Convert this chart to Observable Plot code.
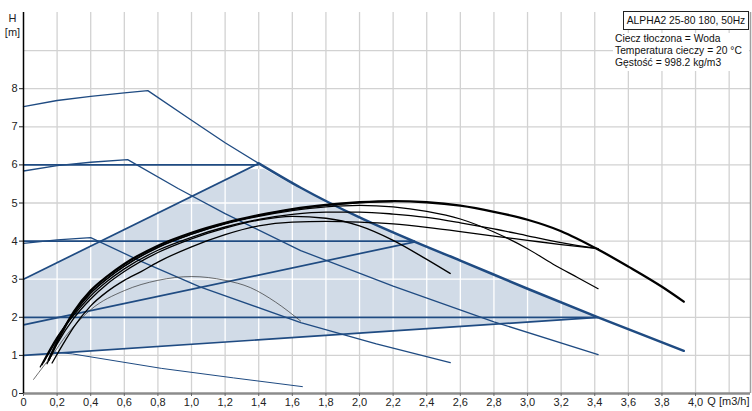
<!DOCTYPE html>
<html><head><meta charset="utf-8">
<script src="https://cdn.jsdelivr.net/npm/d3@7"></script>
<script src="https://cdn.jsdelivr.net/npm/@observablehq/plot@0.6"></script>
<style>
html,body{margin:0;padding:0;background:#fff;}
#wrap{position:relative;width:752px;height:411px;font-family:"Liberation Sans",Arial,sans-serif;overflow:hidden;}
#wrap svg{position:absolute;left:0;top:0;}
#title{position:absolute;left:623px;top:11px;width:124px;height:17px;border:1px solid #222;background:#fff;font-size:10.3px;line-height:17px;text-align:center;color:#111;white-space:nowrap;}
#info{position:absolute;left:613px;top:33px;width:134px;height:38px;background:#fff;font-size:10.3px;line-height:11.8px;color:#111;padding-left:2px;white-space:nowrap;}
</style></head>
<body><div id="wrap"></div>
<script>
// ---- axes / ticks ----
const xTickValues = [0,0.2,0.4,0.6,0.8,1.0,1.2,1.4,1.6,1.8,2.0,2.2,2.4,2.6,2.8,3.0,3.2,3.4,3.6,3.8,4.0];
const xTickLabels = ["0","0,2","0,4","0,6","0,8","1,0","1,2","1,4","1,6","1,8","2,0","2,2","2,4","2,6","2,8","3,0","3,2","3,4","3,6","3,8","4,0"];
const yTickValues = [0,1,2,3,4,5,6,7,8];
const yTickLabels = ["0","1","2","3","4","5","6","7","8"];
const gridQ = [0.2,0.4,0.6,0.8,1.0,1.2,1.4,1.6,1.8,2.0,2.2,2.4,2.6,2.8,3.0,3.2,3.4,3.6,3.8,4.0,4.2];
const gridH = [1,2,3,4,5,6,7,8,9];
const xMax = 4.327, yMax = 10;
const xLabel = "Q [m3/h]";
const yLabel = "H\n[m]";
const titleText = "ALPHA2 25-80 180, 50Hz";
const infoLines = ["Ciecz tłoczona = Woda","Temperatura cieczy = 20 °C","Gęstość = 998.2 kg/m3"];

// ---- shaded AUTOADAPT area ----
const shadeQ = [0,0,1.33,1.43,1.65,2.0,2.33,2.6,3.0,3.42];
const shadeH = [1.0,3.0,5.88,5.9,5.36,4.6,3.96,3.47,2.73,2.0];

// ---- blue curves ----
const maxQ = [1.4,1.65,2.0,2.33,2.6,3.0,3.42,3.93];
const maxH = [6.04,5.4,4.62,3.98,3.49,2.75,2.0,1.12];
const s3Q = [0,0.2,0.4,0.6,0.74,1.0,1.2,1.4];
const s3H = [7.53,7.69,7.8,7.89,7.95,7.17,6.58,6.04];
const s2Q = [0,0.2,0.4,0.62,0.92,1.2,1.65,2.2,2.8,3.42];
const s2H = [5.84,5.98,6.07,6.14,5.38,4.72,3.75,2.82,1.88,1.02];
const s1Q = [0,0.2,0.4,0.7,1.05,1.65,2.1,2.54];
const s1H = [3.94,4.03,4.09,3.47,2.8,1.86,1.3,0.81];
const minQ = [0.17,0.29,0.82,1.25,1.66];
const minH = [1.09,1.04,0.66,0.41,0.18];
const constH = [2,4,6];
const constEndQ = [3.42,2.33,1.4];
const propStartH = [1.0,1.8,3.0];
const propEndQ = [3.42,2.33,1.4];
const propEndH = [2.0,3.98,6.04];

// ---- black curves ----
const thinQ = [0.06,0.12,0.17,0.25,0.4,0.6,0.8,1.0,1.2,1.35,1.5,1.65];
const thinH = [0.37,0.72,1.0,1.5,2.2,2.7,2.97,3.07,2.97,2.78,2.4,1.9];
const aQ = [0.15,0.2,0.3,0.4,0.5,0.6,0.8,1.0,1.2,1.4,1.6,1.8,2.0,2.2,2.4,2.6,2.8,3.0,3.2,3.42,3.6,3.8,3.93];
const aH = [0.88,1.35,2.15,2.7,3.08,3.4,3.88,4.22,4.48,4.68,4.84,4.95,5.02,5.05,5.02,4.93,4.77,4.56,4.26,3.78,3.33,2.8,2.41];
const gQ = [0.11,0.2,0.3,0.4,0.5,0.6,0.8,1.0,1.2,1.4,1.6,1.8,2.0,2.2];
const gH = [0.75,1.42,2.1,2.63,3.02,3.34,3.83,4.18,4.46,4.67,4.83,4.94,5.01,5.04];
const bQ = [0.12,0.2,0.3,0.4,0.5,0.6,0.8,1.0,1.2,1.4,1.6,1.8,2.0,2.2,2.4,2.6,2.8,3.0,3.15,3.3,3.42];
const bH = [0.82,1.45,2.12,2.64,3.02,3.34,3.84,4.18,4.45,4.65,4.8,4.9,4.94,4.9,4.78,4.58,4.24,3.8,3.4,3.04,2.75];
const cQ = [0.1,0.2,0.3,0.4,0.5,0.6,0.8,1.0,1.2,1.4,1.6,1.8,2.0,2.2,2.4,2.6,2.8,3.0,3.2,3.42];
const cH = [0.7,1.48,2.06,2.56,2.95,3.27,3.76,4.1,4.37,4.57,4.7,4.76,4.76,4.71,4.62,4.48,4.32,4.14,3.96,3.8];
const eQ = [0.14,0.2,0.3,0.4,0.5,0.6,0.8,1.0,1.2,1.4,1.6,1.8,2.0,2.2,2.4,2.54];
const eH = [0.78,1.3,1.98,2.48,2.88,3.2,3.7,4.06,4.34,4.55,4.65,4.6,4.4,4.02,3.52,3.15];
const dQ = [0.17,0.25,0.3,0.4,0.5,0.6,0.7,0.8,1.0,1.2,1.4,1.6,1.8,2.0,2.2,2.4,2.6,2.8,3.0,3.2,3.42];
const dH = [0.8,1.4,1.75,2.3,2.68,2.97,3.2,3.45,3.85,4.17,4.4,4.5,4.52,4.5,4.45,4.36,4.25,4.13,4.02,3.91,3.8];

// ---- helpers ----
const pts = (Q, Hh) => Q.map((q, i) => ({q, h: Hh[i]}));
function scan(polyQ, polyH, k, vertical) {
  const hits = [];
  const n = polyQ.length;
  for (let i = 0; i < n; i++) {
    const j = (i + 1) % n;
    const a = vertical ? polyQ[i] : polyH[i], b = vertical ? polyQ[j] : polyH[j];
    if ((a <= k && k < b) || (b <= k && k < a)) {
      const t = (k - a) / (b - a);
      const o1 = vertical ? polyH[i] : polyQ[i], o2 = vertical ? polyH[j] : polyQ[j];
      hits.push(o1 + t * (o2 - o1));
    }
  }
  hits.sort((u, v) => u - v);
  const segs = [];
  for (let i = 0; i + 1 < hits.length; i += 2) {
    if (vertical) segs.push({x1: k, x2: k, y1: hits[i], y2: hits[i + 1]});
    else segs.push({y1: k, y2: k, x1: hits[i], x2: hits[i + 1]});
  }
  return segs;
}
const whiteSegs = [
  ...gridQ.flatMap(k => scan(shadeQ, shadeH, k, true)),
  ...gridH.flatMap(k => scan(shadeQ, shadeH, k, false))
];
const constLines = constH.map((h, i) => ({x1: 0, x2: constEndQ[i], y1: h, y2: h}));
const propLines = propStartH.map((h, i) => ({x1: 0, x2: propEndQ[i], y1: h, y2: propEndH[i]}));
const xLab = new Map(xTickValues.map((v, i) => [v, xTickLabels[i]]));
const yLab = new Map(yTickValues.map((v, i) => [v, yTickLabels[i]]));

const BLUE = "#1f4b82";
const SHADE = "#d1dbe7";
const GRID = "#d2d2d2";

const blackCurve = (Q, Hh, w, color = "#000") =>
  Plot.line(pts(Q, Hh), {x: "q", y: "h", stroke: color, strokeWidth: w, curve: "monotone-x"});

const chart = Plot.plot({
  width: 752, height: 411,
  marginLeft: 23, marginRight: 2, marginTop: 12, marginBottom: 18,
  x: {domain: [0, xMax]},
  y: {domain: [0, yMax]},
  style: {fontFamily: '"Liberation Sans", Arial, sans-serif', fontSize: "11px", color: "#222", background: "transparent", overflow: "visible"},
  marks: [
    Plot.ruleX(gridQ, {stroke: GRID, strokeWidth: 1.3}),
    Plot.ruleY(gridH, {stroke: GRID, strokeWidth: 1.3}),
    Plot.line(pts(shadeQ, shadeH), {x: "q", y: "h", fill: SHADE, stroke: "none"}),
    Plot.link(whiteSegs, {x1: "x1", y1: "y1", x2: "x2", y2: "y2", stroke: "#fff", strokeWidth: 1.3}),
    // blue curves
    Plot.line(pts(s3Q, s3H), {x: "q", y: "h", stroke: BLUE, strokeWidth: 1.3}),
    Plot.line(pts(s2Q, s2H), {x: "q", y: "h", stroke: BLUE, strokeWidth: 1.3}),
    Plot.line(pts(s1Q, s1H), {x: "q", y: "h", stroke: BLUE, strokeWidth: 1.3}),
    Plot.line(pts(minQ, minH), {x: "q", y: "h", stroke: BLUE, strokeWidth: 1}),
    Plot.link(constLines, {x1: "x1", y1: "y1", x2: "x2", y2: "y2", stroke: BLUE, strokeWidth: 1.7}),
    Plot.link(propLines, {x1: "x1", y1: "y1", x2: "x2", y2: "y2", stroke: BLUE, strokeWidth: 1.7}),
    Plot.line(pts(maxQ, maxH), {x: "q", y: "h", stroke: BLUE, strokeWidth: 2.5, curve: "monotone-x"}),
    // black curves
    blackCurve(thinQ, thinH, 0.7, "#333"),
    blackCurve(dQ, dH, 1.3),
    blackCurve(eQ, eH, 1.3),
    blackCurve(cQ, cH, 1.3),
    blackCurve(bQ, bH, 1.2),
    blackCurve(gQ, gH, 1.3),
    blackCurve(aQ, aH, 2.3),
    // frame
    Plot.ruleX([xMax], {stroke: "#a0a0a0", strokeWidth: 1.5}),
    Plot.ruleY([0], {stroke: "#8c8c8c", strokeWidth: 2.5}),
    Plot.ruleX([0], {stroke: "#000", strokeWidth: 1.5}),
    Plot.axisX({ticks: xTickValues, tickFormat: d => xLab.get(d), tickSize: 3, tickPadding: 2, stroke: "#666", label: null}),
    Plot.axisY({ticks: yTickValues, tickFormat: d => yLab.get(d), tickSize: 4, tickPadding: 2, label: null}),
    Plot.text([xLabel], {frameAnchor: "bottom-right", dy: 11, dx: -1, textAnchor: "end", fill: "#222"}),
    Plot.text([yLabel], {frameAnchor: "top-left", dx: -11, dy: 0, lineAnchor: "top", textAnchor: "middle", lineHeight: 1.25, fill: "#222"})
  ]
});

const wrap = document.getElementById("wrap");
wrap.appendChild(chart);
const t = document.createElement("div");
t.id = "title"; t.textContent = titleText;
wrap.appendChild(t);
const info = document.createElement("div");
info.id = "info";
infoLines.forEach(s => { const d = document.createElement("div"); d.textContent = s; info.appendChild(d); });
wrap.appendChild(info);
</script>
</body></html>
